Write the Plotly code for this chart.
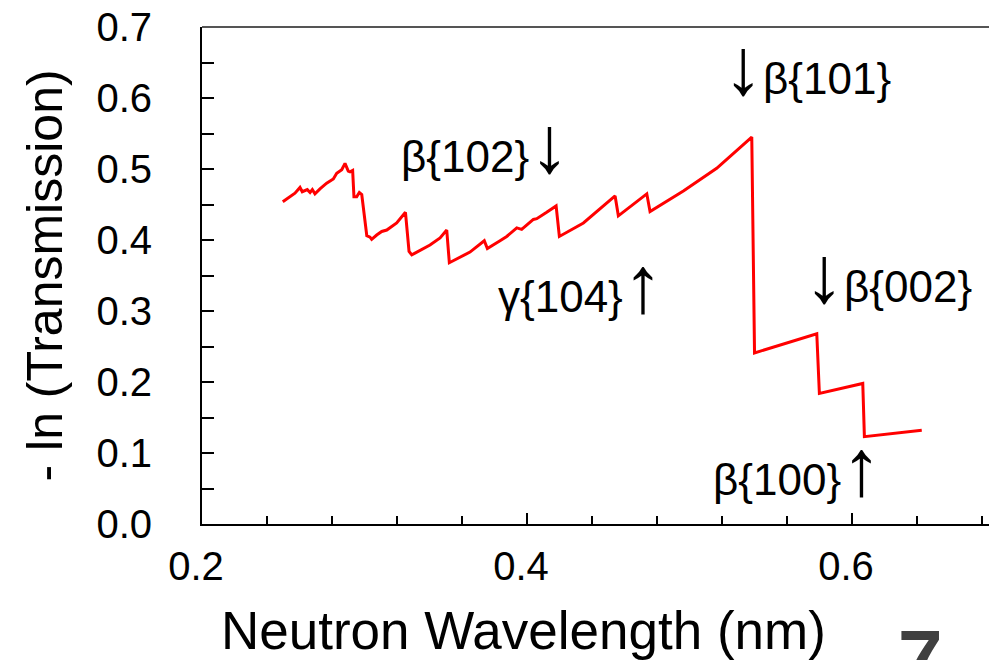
import plotly.graph_objects as go

# ---- data ----
wavelength_nm = [0.2497, 0.2572, 0.2603, 0.2617, 0.2648, 0.2665, 0.2679, 0.2695,
                 0.2726, 0.2767, 0.2808, 0.2829, 0.2860, 0.2880, 0.2900, 0.2911,
                 0.2927, 0.2935, 0.2952, 0.2968, 0.2983, 0.3014, 0.3034, 0.3044,
                 0.3075, 0.3106, 0.3137, 0.3198, 0.3252, 0.3274, 0.3291, 0.3321,
                 0.3403, 0.3465, 0.3506, 0.3522, 0.3567, 0.3649, 0.3737, 0.3756,
                 0.3834, 0.3875, 0.3937, 0.3967, 0.4039, 0.4060, 0.4121, 0.4179,
                 0.4199, 0.4347, 0.4542, 0.4562, 0.4737, 0.4757, 0.4962, 0.5167,
                 0.5383, 0.5400, 0.5783, 0.5799, 0.6066, 0.6076, 0.6429]
neg_ln_transmission = [0.454, 0.466, 0.474, 0.468, 0.471, 0.467, 0.471, 0.465,
                       0.472, 0.480, 0.486, 0.494, 0.499, 0.508, 0.497, 0.496,
                       0.498, 0.461, 0.461, 0.467, 0.464, 0.406, 0.404, 0.401,
                       0.407, 0.412, 0.414, 0.424, 0.439, 0.384, 0.379, 0.383,
                       0.393, 0.403, 0.414, 0.368, 0.373, 0.383, 0.399, 0.388,
                       0.399, 0.405, 0.417, 0.415, 0.429, 0.430, 0.439, 0.448,
                       0.405, 0.424, 0.462, 0.434, 0.465, 0.440, 0.469, 0.501,
                       0.545, 0.241, 0.268, 0.184, 0.198, 0.123, 0.132]

x_tick_vals = [0.2, 0.4, 0.6]
x_tick_text = ["0.2", "0.4", "0.6"]
y_tick_vals = [0.0, 0.1, 0.2, 0.3, 0.4, 0.5, 0.6, 0.7]
y_tick_text = ["0.0", "0.1", "0.2", "0.3", "0.4", "0.5", "0.6", "0.7"]

peak_labels = ["β{102}↓", "γ{104}↑", "↓β{101}", "↓β{002}", "β{100}↑"]
peak_label_x = [0.3742, 0.4326, 0.5723, 0.6222, 0.5662]
peak_label_y = [0.535, 0.338, 0.644, 0.352, 0.080]

x_title = "Neutron Wavelength (nm)"
y_title = "- ln (Transmission)"
corner_text = "7"

FONT = "Arial, Liberation Sans, sans-serif"


def big_arrows(s):
    out = ""
    for ch in s:
        if ch in "↑↓":
            out += '<span style="font-size:80px">' + ch + "</span>"
        else:
            out += ch
    return out


fig = go.Figure()
fig.add_trace(go.Scatter(
    x=wavelength_nm, y=neg_ln_transmission, mode="lines",
    line=dict(color="#ff0000", width=3), showlegend=False,
))

# page body has an 8px margin: figure is shrunk so it ends at the window edge
fig.update_layout(
    width=989, height=652,
    margin=dict(l=194, r=0, t=19, b=136),
    plot_bgcolor="white", paper_bgcolor="white",
    font=dict(family=FONT, color="black"),
)

fig.update_xaxes(
    range=[0.2, 0.6892], showgrid=False, zeroline=False, automargin=False,
    showline=True, linecolor="black", linewidth=2,
    tickvals=x_tick_vals, ticktext=x_tick_text,
    ticks="inside", ticklen=11, tickwidth=1.5, tickcolor="black",
    tickfont=dict(size=40, family=FONT),
    ticklabelstandoff=6, ticklabelshift=-6, ticklabeloverflow="allow",
    minor=dict(ticks="inside", ticklen=8, tickwidth=1.5, tickcolor="black",
               dtick=0.04, tick0=0.2, showgrid=False),
)
fig.update_yaxes(
    range=[0, 0.7], showgrid=False, zeroline=False, automargin=False,
    showline=True, linecolor="black", linewidth=2,
    tickvals=y_tick_vals, ticktext=y_tick_text,
    ticks="inside", ticklen=12, tickwidth=1.5, tickcolor="black",
    tickfont=dict(size=40, family=FONT),
    ticklabelstandoff=40, ticklabeloverflow="allow",
    minor=dict(ticks="inside", ticklen=12, tickwidth=1.5, tickcolor="black",
               dtick=0.05, tick0=0, showgrid=False),
)

# top frame line
fig.add_shape(type="line", xref="paper", yref="paper", x0=0, x1=1, y0=1, y1=1,
              line=dict(color="#555555", width=2))

for t, xv, yv in zip(peak_labels, peak_label_x, peak_label_y):
    fig.add_annotation(x=xv, y=yv, xref="x", yref="y", text=big_arrows(t), showarrow=False,
                       font=dict(size=44, family=FONT, color="black"),
                       xanchor="center", yanchor="middle")

fig.add_annotation(x=0.4044, y=-0.215, xref="paper", yref="paper", text=x_title,
                   showarrow=False, xanchor="center", yanchor="middle",
                   font=dict(size=53, family=FONT, color="black"))
fig.add_annotation(x=-0.1975, y=0.5, xref="paper", yref="paper", text=y_title,
                   showarrow=False, xanchor="center", yanchor="middle", textangle=-90,
                   font=dict(size=50, family=FONT, color="black"))
fig.add_annotation(x=0.9044, y=-0.177, xref="paper", yref="paper", text="<b>" + corner_text + "</b>",
                   showarrow=False, xanchor="center", yanchor="top",
                   font=dict(size=80, family=FONT, color="#404040"))

fig.write_html("out.html")
